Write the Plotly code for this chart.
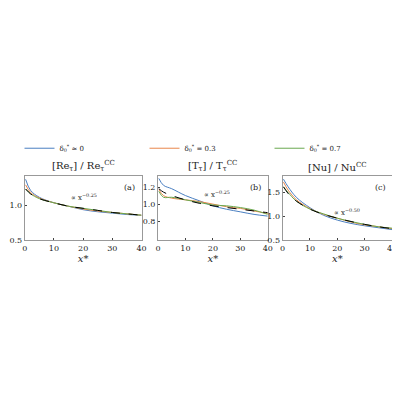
import plotly.graph_objects as go

x = [0.3, 2, 5, 10, 15, 20, 25, 30, 35, 40]

# panel (a) Re_tau
a_d0 = [1.38, 1.22, 1.12, 1.04, 0.99, 0.94, 0.91, 0.89, 0.87, 0.86]
a_d3 = [1.30, 1.19, 1.11, 1.04, 0.99, 0.95, 0.92, 0.90, 0.88, 0.86]
a_d7 = [1.24, 1.17, 1.10, 1.04, 0.99, 0.96, 0.93, 0.90, 0.88, 0.86]
a_fit = [1.24, 1.17, 1.10, 1.04, 0.99, 0.96, 0.93, 0.90, 0.88, 0.86]

# panel (b) T_tau
b_d0 = [1.30, 1.22, 1.18, 1.10, 1.04, 0.98, 0.94, 0.91, 0.88, 0.86]
b_d3 = [1.17, 1.10, 1.07, 1.05, 1.03, 1.00, 0.97, 0.95, 0.92, 0.89]
b_d7 = [1.15, 1.08, 1.08, 1.05, 1.02, 0.99, 0.98, 0.96, 0.93, 0.88]
b_fit = [1.18, 1.14, 1.10, 1.05, 1.01, 0.98, 0.96, 0.94, 0.92, 0.90]

# panel (c) Nu
c_d0 = [1.78, 1.62, 1.40, 1.18, 1.02, 0.92, 0.85, 0.80, 0.76, 0.72]
c_d3 = [1.72, 1.55, 1.35, 1.16, 1.04, 0.96, 0.88, 0.82, 0.78, 0.74]
c_d7 = [1.62, 1.50, 1.32, 1.15, 1.05, 0.96, 0.89, 0.83, 0.78, 0.75]
c_fit = [1.62, 1.48, 1.32, 1.15, 1.04, 0.96, 0.89, 0.83, 0.78, 0.74]

names = ["δ<sub>0</sub><sup>*</sup> ≈ 0", "δ<sub>0</sub><sup>*</sup> = 0.3", "δ<sub>0</sub><sup>*</sup> = 0.7"]
colors = ["#4a7fc1", "#e9874c", "#6aa84f"]

panels = [
    (a_d0, a_d3, a_d7, a_fit, [0.5, 1.43], [0.5, 1.0], "[Re<sub>τ</sub>] / Re<sub>τ</sub><sup>CC</sup>", "(a)", "∝ x<sup>−0.25</sup>", 15, 1.13),
    (b_d0, b_d3, b_d7, b_fit, [0.58, 1.33], [0.8, 1.0, 1.2], "[T<sub>τ</sub>] / T<sub>τ</sub><sup>CC</sup>", "(b)", "∝ x<sup>−0.25</sup>", 16, 1.12),
    (c_d0, c_d3, c_d7, c_fit, [0.5, 1.85], [0.5, 1.0, 1.5], "[Nu] / Nu<sup>CC</sup>", "(c)", "∝ x<sup>−0.50</sup>", 18, 1.1),
]
domains = [[0.035, 0.333], [0.375, 0.655], [0.693, 0.972]]

fig = go.Figure()
for i, (d0, d3, d7, fit, yr, yt, title, tag, law, lx, ly) in enumerate(panels):
    n = "" if i == 0 else str(i + 1)
    for j, ys in enumerate([d0, d3, d7]):
        fig.add_trace(go.Scatter(x=x, y=ys, mode="lines", line=dict(color=colors[j], width=1, shape="spline"),
                                 name=names[j], showlegend=(i == 0), xaxis="x" + n, yaxis="y" + n))
    fig.add_trace(go.Scatter(x=x, y=fit, mode="lines", line=dict(color="black", width=1, dash="dash", shape="spline"),
                             showlegend=False, xaxis="x" + n, yaxis="y" + n))
    fig.layout["xaxis" + n] = dict(domain=domains[i], range=[0, 40], tickvals=[0, 10, 20, 30, 40],
                                   showline=True, mirror=True, linecolor="#999", ticks="inside", ticklen=2,
                                   showgrid=False, zeroline=False, anchor="y" + n,
                                   title=dict(text="<i>x*</i>", standoff=2, font=dict(size=10)))
    fig.layout["yaxis" + n] = dict(domain=[0.4125, 0.575], range=yr, tickvals=yt, tickformat=".1f",
                                   showline=True, mirror=True, linecolor="#999", ticks="inside", ticklen=2,
                                   showgrid=False, zeroline=False, anchor="x" + n)
    fig.add_annotation(text=title, xref="x" + n + " domain", yref="y" + n + " domain", x=0.5, y=1.02,
                       yanchor="bottom", showarrow=False, font=dict(size=10))
    fig.add_annotation(text=tag, xref="x" + n + " domain", yref="y" + n + " domain", x=0.96, y=0.92,
                       xanchor="right", showarrow=False, font=dict(size=8))
    fig.add_annotation(text=law, xref="x" + n, yref="y" + n, x=lx, y=ly, xanchor="left",
                       showarrow=False, font=dict(size=7))

fig.update_layout(
    width=400, height=400, plot_bgcolor="white", paper_bgcolor="white",
    margin=dict(l=0, r=0, t=0, b=0),
    font=dict(family="DejaVu Serif", size=8, color="#222"),
    legend=dict(orientation="h", x=0.5, xanchor="center", y=0.645, yanchor="middle", font=dict(size=7),
                entrywidth=80),
)
fig.write_html("out.html")
